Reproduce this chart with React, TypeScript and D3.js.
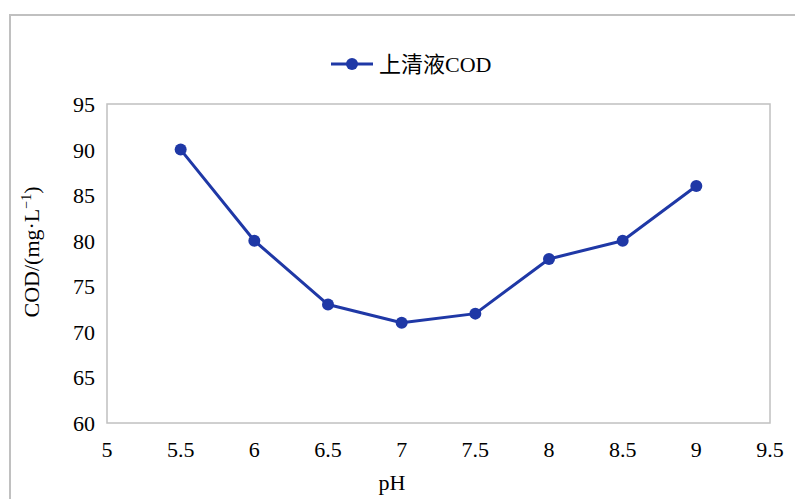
import React from "react";
import * as d3 from "d3";

const phValues = [5.5, 6, 6.5, 7, 7.5, 8, 8.5, 9];
const codValues = [90, 80, 73, 71, 72, 78, 80, 86];
const xTicks = [5, 5.5, 6, 6.5, 7, 7.5, 8, 8.5, 9, 9.5];
const yTicks = [60, 65, 70, 75, 80, 85, 90, 95];
const seriesName = "上清液";

const W = 795;
const H = 499;
const plot = { left: 107, top: 104, right: 770, bottom: 423 };
const lineColor = "#1f38a6";
const serif = "'Liberation Serif', 'Times New Roman', serif";
const fs = 22;

export default function App() {
  const x = d3.scaleLinear().domain([5, 9.5]).range([plot.left, plot.right]);
  const y = d3.scaleLinear().domain([60, 95]).range([plot.bottom, plot.top]);
  const pts = phValues.map((p, i) => [p, codValues[i]] as [number, number]);
  const line = d3
    .line<[number, number]>()
    .x((d) => x(d[0]))
    .y((d) => y(d[1]));

  return (
    <svg
      width={W}
      height={H}
      style={{ position: "absolute", left: 0, top: 0, background: "#fff" }}
    >
      {/* chart area frame */}
      <rect x={10} y={15} width={W + 10} height={H + 10} fill="none" stroke="#c0c0c0" strokeWidth={2} />
      {/* plot area frame */}
      <rect
        x={plot.left}
        y={plot.top}
        width={plot.right - plot.left}
        height={plot.bottom - plot.top}
        fill="none"
        stroke="#c0c0c0"
        strokeWidth={1.5}
      />
      {/* y ticks */}
      {yTicks.map((t) => (
        <text
          key={"y" + t}
          x={95}
          y={y(t) + 8}
          textAnchor="end"
          fontFamily={serif}
          fontSize={fs}
          fill="#000"
        >
          {t}
        </text>
      ))}
      {/* x ticks */}
      {xTicks.map((t) => (
        <text
          key={"x" + t}
          x={x(t)}
          y={457}
          textAnchor="middle"
          fontFamily={serif}
          fontSize={fs}
          fill="#000"
        >
          {t}
        </text>
      ))}
      {/* axis titles */}
      <text x={392} y={490} textAnchor="middle" fontFamily={serif} fontSize={fs}>
        pH
      </text>
      <text
        transform={`translate(39,252) rotate(-90)`}
        textAnchor="middle"
        fontFamily={serif}
        fontSize={fs}
      >
        COD/(mg·L
        <tspan dy={-8} fontSize={14}>−1</tspan>
        <tspan dy={8}>)</tspan>
      </text>
      {/* legend */}
      <line x1={331} x2={373} y1={64} y2={64} stroke={lineColor} strokeWidth={3} />
      <circle cx={352} cy={64} r={6} fill={lineColor} />
      <text x={379} y={72} fontSize={fs} fill="#000">
        <tspan fontFamily="'Noto Sans CJK SC', sans-serif" fontSize={22}>{seriesName}</tspan>
        <tspan fontFamily={serif}>COD</tspan>
      </text>
      {/* series */}
      <path d={line(pts) ?? ""} fill="none" stroke={lineColor} strokeWidth={3} strokeLinejoin="round" />
      {pts.map((d, i) => (
        <circle key={i} cx={x(d[0])} cy={y(d[1])} r={6} fill={lineColor} />
      ))}
    </svg>
  );
}
